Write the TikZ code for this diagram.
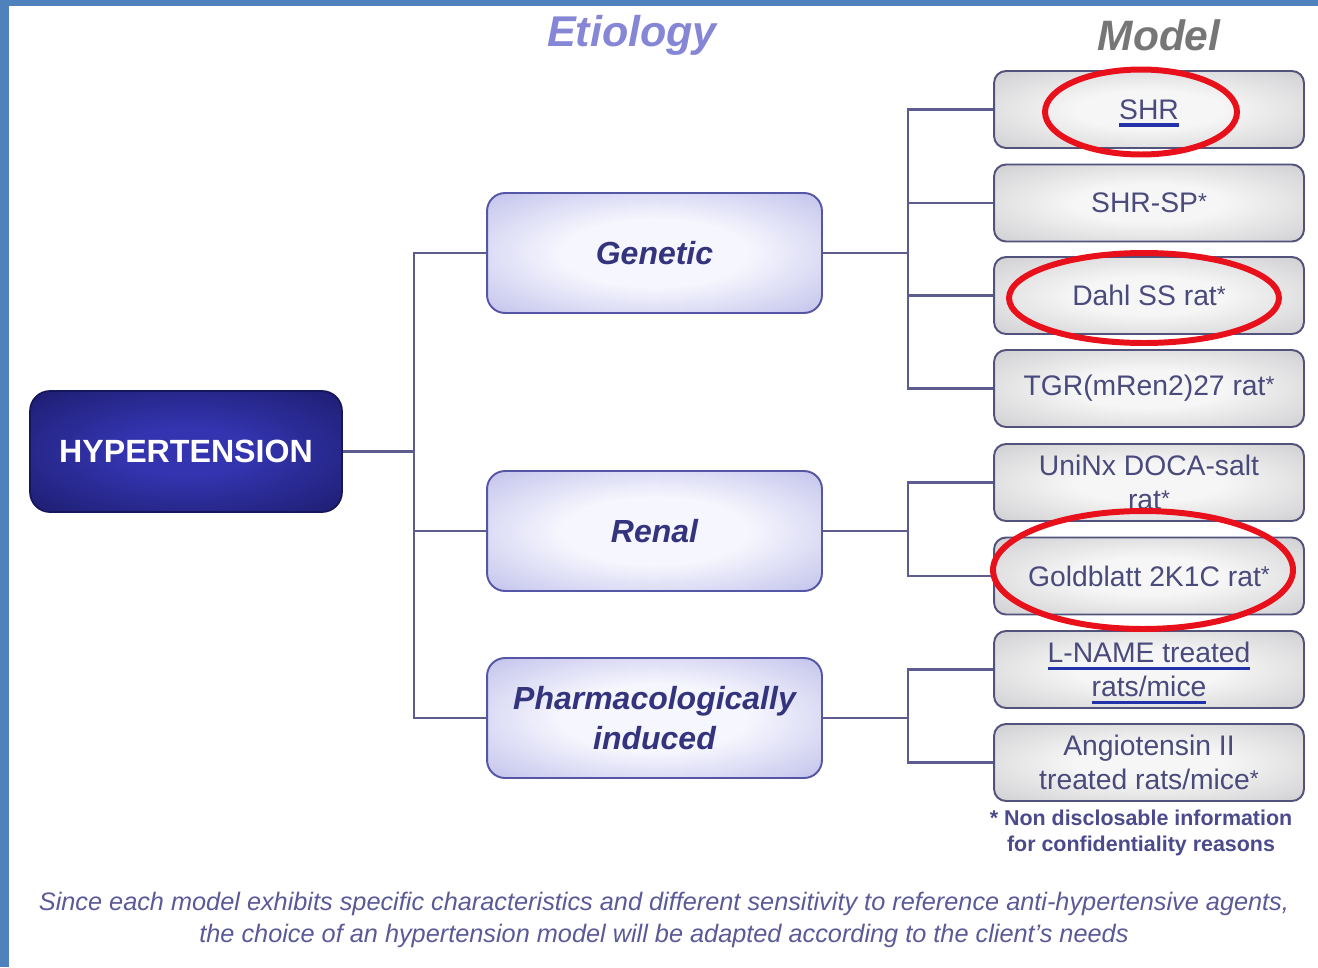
\documentclass[tikz,border=0pt]{standalone}
\usepackage{fontspec}
\setmainfont{Liberation Sans}
\usetikzlibrary{shapes.geometric}
\definecolor{frameblue}{HTML}{4F81BD}
\definecolor{linecol}{HTML}{5C5C8E}
\definecolor{etioin}{HTML}{F6F6FE}
\definecolor{etioout}{HTML}{A9A9E3}
\definecolor{etioborder}{HTML}{5656A6}
\definecolor{etiotext}{HTML}{34347E}
\definecolor{modin}{HTML}{F6F6F6}
\definecolor{modout}{HTML}{BBBBBF}
\definecolor{modborder}{HTML}{52527C}
\definecolor{modtext}{HTML}{4A4A7C}
\definecolor{hypin}{HTML}{3434B0}
\definecolor{hypout}{HTML}{16165C}
\definecolor{hdretio}{HTML}{8686D6}
\definecolor{hdrmodel}{HTML}{767676}
\definecolor{ulblue}{HTML}{2233AA}
\definecolor{ringred}{HTML}{E8101A}
\definecolor{foottext}{HTML}{4A4A8C}
\definecolor{bottomtext}{HTML}{5A5A98}
\pgfdeclareradialshading{etioshade}{\pgfpoint{0bp}{0bp}}{color(0bp)=(etioin); color(14bp)=(etioin); color(46bp)=(etioout); color(80bp)=(etioout)}
\pgfdeclareradialshading{modshade}{\pgfpoint{0bp}{0bp}}{color(0bp)=(modin); color(12bp)=(modin); color(48bp)=(modout); color(80bp)=(modout)}
\pgfdeclareradialshading{hypshade}{\pgfpoint{0bp}{0bp}}{color(0bp)=(hypin); color(10bp)=(hypin); color(44bp)=(hypout); color(80bp)=(hypout)}
\newsavebox{\myulbox}
\newcommand{\blueul}[1]{\sbox{\myulbox}{#1}\smash{\rlap{\color{ulblue}\rule[-4.4pt]{\wd\myulbox}{2pt}}}\usebox{\myulbox}}
\newcommand{\sstar}{{\fontsize{13pt}{13pt}\selectfont\raisebox{1.8pt}{*}}}
\tikzset{
  hypbox/.style={draw=hypout, line width=1pt, rounded corners=0.4cm, shading=hypshade,
    minimum width=6.24cm, minimum height=2.42cm, inner sep=0pt,
    text=white, font=\bfseries\fontsize{18.3}{21}\selectfont},
  etiobox/.style={draw=etioborder, line width=1.1pt, rounded corners=0.36cm, shading=etioshade,
    minimum width=6.7cm, minimum height=2.4cm, inner sep=0pt, align=center,
    text=etiotext, font=\bfseries\itshape\fontsize{18.2}{22.7}\selectfont},
  modbox/.style={draw=modborder, line width=1.1pt, rounded corners=0.24cm, shading=modshade,
    minimum width=6.2cm, minimum height=1.54cm, inner sep=0pt, align=center,
    text=modtext, font=\fontsize{16.1}{19.2}\selectfont},
  conn/.style={draw=linecol, line width=1.3pt},
  ring/.style={draw=ringred, line width=3.4pt, ellipse, inner sep=0pt},
}
\begin{document}
\begin{tikzpicture}[x=0.02cm, y=-0.02cm]
\useasboundingbox (0,0) rectangle (1318,967);
\fill[white] (0,0) rectangle (1318,967);
\fill[frameblue] (0,0) rectangle (9,967);
\fill[frameblue] (0,0) rectangle (1318,6);

% headers
\node (hdrE) at (632,35) {\color{hdretio}\bfseries\itshape\fontsize{24.5}{28}\selectfont Etiology};
\node (hdrM) at (1159,35) {\color{hdrmodel}\bfseries\itshape\fontsize{24.2}{28}\selectfont Model};

% root
\node[hypbox] (hyp) at (186,451.5) {HYPERTENSION};

% etiology
\node[etiobox] (gen) at (654.5,253) {Genetic};
\node[etiobox] (ren) at (654.5,531) {Renal};
\node[etiobox] (pha) at (654.5,718) {Pharmacologically\\induced};

% models
\node[modbox] (shr) at (1149,109.5) {\blueul{SHR}};
\node[modbox] (shrsp) at (1149,203) {SHR-SP\sstar};
\node[modbox] (dahl) at (1149,295.5) {Dahl SS rat\sstar};
\node[modbox] (tgr) at (1149,388.5) {TGR(mRen2)27 rat\sstar};
\node[modbox] (uni) at (1149,482.5) {UniNx DOCA-salt\\rat\sstar};
\node[modbox] (gold) at (1149,576) {Goldblatt 2K1C rat\sstar};
\node[modbox] (lname) at (1149,669.5) {\blueul{L-NAME treated}\\\blueul{rats/mice}};
\node[modbox] (ang) at (1149,762.5) {Angiotensin II\\treated rats/mice\sstar};

% junctions
\coordinate (j1) at (414,451.5);
\coordinate (j2) at (908,253);
\coordinate (j3) at (908,531);
\coordinate (j4) at (908,718);

\draw[conn] (hyp.east) -- (j1);
\draw[conn] (j1) |- (gen.west);
\draw[conn] (j1) |- (ren.west);
\draw[conn] (j1) |- (pha.west);

\draw[conn] (gen.east) -- (j2);
\draw[conn] (j2) |- (shr.west);
\draw[conn] (j2) |- (shrsp.west);
\draw[conn] (j2) |- (dahl.west);
\draw[conn] (j2) |- (tgr.west);

\draw[conn] (ren.east) -- (j3);
\draw[conn] (j3) |- (uni.west);
\draw[conn] (j3) |- (gold.west);

\draw[conn] (pha.east) -- (j4);
\draw[conn] (j4) |- (lname.west);
\draw[conn] (j4) |- (ang.west);

% red rings
\node[ring, minimum width=3.84cm, minimum height=1.7cm] (r1) at (1141,112) {};
\node[ring, minimum width=5.4cm, minimum height=1.8cm] (r2) at (1144,298) {};
\node[ring, minimum width=6.0cm, minimum height=2.36cm] (r3) at (1143,570) {};

% footnote
\node[align=center, text=foottext, font=\bfseries\fontsize{12.2}{14.8}\selectfont] (foot) at (1141,833)
  {* Non disclosable information\\for confidentiality reasons};

% bottom text
\node[align=center, text=bottomtext, font=\itshape\fontsize{14.4}{18.2}\selectfont] (bottom) at (664,920)
  {Since each model exhibits specific characteristics and different sensitivity to reference anti-hypertensive agents,\\the choice of an hypertension model will be adapted according to the client's needs};
\end{tikzpicture}
\end{document}
